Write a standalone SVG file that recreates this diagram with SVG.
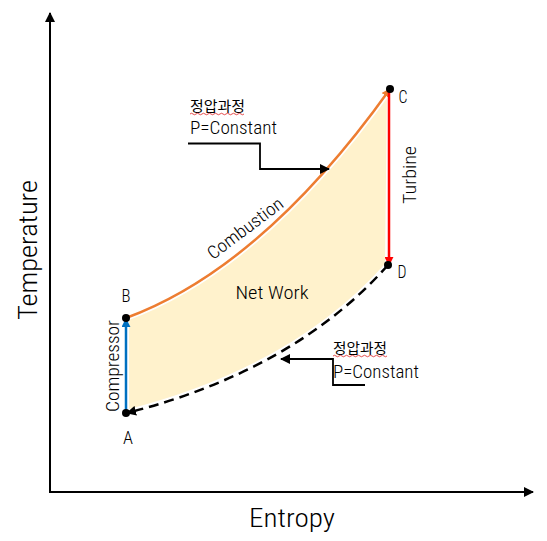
<svg xmlns="http://www.w3.org/2000/svg" width="547" height="541" viewBox="0 0 547 541">
<style>
text{font-family:"Roboto Condensed","Liberation Sans Narrow","DejaVu Sans Condensed",Roboto,"Liberation Sans",sans-serif;font-weight:300;fill:#000}
.ko{font-family:"Noto Sans CJK KR","Noto Sans",sans-serif;font-size:14px;font-weight:400}
.lbl{font-size:18px}
.ax{font-size:25px}
.pt{font-size:18px}
</style>
<defs>
<marker id="ak" viewBox="0 0 10 10" refX="9" refY="5" markerWidth="10" markerHeight="10" markerUnits="userSpaceOnUse" orient="auto"><path d="M0,0L10,5L0,10z" fill="#000"/></marker>
<marker id="ab" viewBox="0 0 10 10" refX="9" refY="5" markerWidth="9" markerHeight="9" markerUnits="userSpaceOnUse" orient="auto"><path d="M0,0L10,5L0,10z" fill="#0070C0"/></marker>
<marker id="ao" viewBox="0 0 10 10" refX="9" refY="5" markerWidth="9" markerHeight="9" markerUnits="userSpaceOnUse" orient="auto"><path d="M0,0L10,5L0,10z" fill="#ED7D31"/></marker>
<marker id="ar" viewBox="0 0 10 10" refX="9" refY="5" markerWidth="9" markerHeight="9" markerUnits="userSpaceOnUse" orient="auto"><path d="M0,0L10,5L0,10z" fill="#FF0000"/></marker>
</defs>
<g id="area">
<path d="M126,318 Q262,268 390,89 L388,265 Q295,370 126,413 Z" fill="#FFF2CC" stroke="#fff" stroke-width="6" stroke-linejoin="round"/>
<text class="lbl" x="272" y="299" text-anchor="middle" textLength="73" lengthAdjust="spacingAndGlyphs">Net  Work</text>
</g>
<g id="axes" fill="none" stroke="#000" stroke-width="2">
<line x1="50" y1="493" x2="50" y2="13" marker-end="url(#ak)"/>
<line x1="49" y1="492" x2="533" y2="492" marker-end="url(#ak)"/>
</g>
<text class="ax" x="28" y="250" text-anchor="middle" transform="rotate(-90 28 250)" dominant-baseline="central" textLength="140" lengthAdjust="spacingAndGlyphs">Temperature</text>
<text class="ax" x="292" y="527" text-anchor="middle" textLength="86" lengthAdjust="spacingAndGlyphs">Entropy</text>
<g id="connectors" fill="none" stroke-width="2.5">
<path d="M126,413 L126,319" stroke="#0070C0" marker-end="url(#ab)"/>
<path d="M126,318 Q262,268 390,89" stroke="#ED7D31" marker-end="url(#ao)"/>
<path d="M389,89 L389,265" stroke="#FF0000" marker-end="url(#ar)"/>
<path d="M388,265 Q295,370 127,413" stroke="#000" stroke-dasharray="10,6" marker-end="url(#ak)"/>
<path d="M188,143.5 H260 V169 H329" stroke="#000" stroke-width="1.8" marker-end="url(#ak)"/>
<path d="M365,385 H333 V359 H281" stroke="#000" stroke-width="1.8" marker-end="url(#ak)"/>
</g>
<g id="A"><circle cx="126" cy="413" r="4"/><text class="pt" x="128" y="444" text-anchor="middle" textLength="10" lengthAdjust="spacingAndGlyphs">A</text></g>
<g id="B"><circle cx="126" cy="318" r="4"/><text class="pt" x="126" y="302" text-anchor="middle" textLength="9" lengthAdjust="spacingAndGlyphs">B</text></g>
<g id="C"><circle cx="390" cy="89" r="4"/><text class="pt" x="403" y="103" text-anchor="middle" textLength="9" lengthAdjust="spacingAndGlyphs">C</text></g>
<g id="D"><circle cx="388" cy="265" r="4"/><text class="pt" x="402" y="278" text-anchor="middle" textLength="9" lengthAdjust="spacingAndGlyphs">D</text></g>
<text class="lbl" x="112" y="366" text-anchor="middle" dominant-baseline="central" transform="rotate(-90 112 366)" textLength="92" lengthAdjust="spacingAndGlyphs">Compressor</text>
<text class="lbl" x="409" y="175" text-anchor="middle" dominant-baseline="central" transform="rotate(-90 409 175)" textLength="58" lengthAdjust="spacingAndGlyphs">Turbine</text>
<text class="lbl" x="245" y="228" text-anchor="middle" dominant-baseline="central" transform="rotate(-37 245 228)" textLength="90" lengthAdjust="spacingAndGlyphs">Combustion</text>
<g id="label-top">
<text class="ko" x="190" y="111" textLength="55" lengthAdjust="spacingAndGlyphs">정압과정</text>
<path d="M190,114 q1.5,-1.5 3,0 t3,0 t3,0 t3,0 t3,0 t3,0 t3,0 t3,0 t3,0 t3,0 t3,0 t3,0 t3,0 t3,0 t3,0 t3,0 t3,0 t3,0" fill="none" stroke="#E02020" stroke-width="0.8"/>
<text class="lbl" x="190" y="134" textLength="87" lengthAdjust="spacingAndGlyphs">P=Constant</text>
</g>
<g id="label-bottom">
<text class="ko" x="333" y="353" textLength="54" lengthAdjust="spacingAndGlyphs">정압과정</text>
<path d="M333,356 q1.5,-1.5 3,0 t3,0 t3,0 t3,0 t3,0 t3,0 t3,0 t3,0 t3,0 t3,0 t3,0 t3,0 t3,0 t3,0 t3,0 t3,0 t3,0 t3,0" fill="none" stroke="#E02020" stroke-width="0.8"/>
<text class="lbl" x="333" y="378" textLength="86" lengthAdjust="spacingAndGlyphs">P=Constant</text>
</g>
</svg>
